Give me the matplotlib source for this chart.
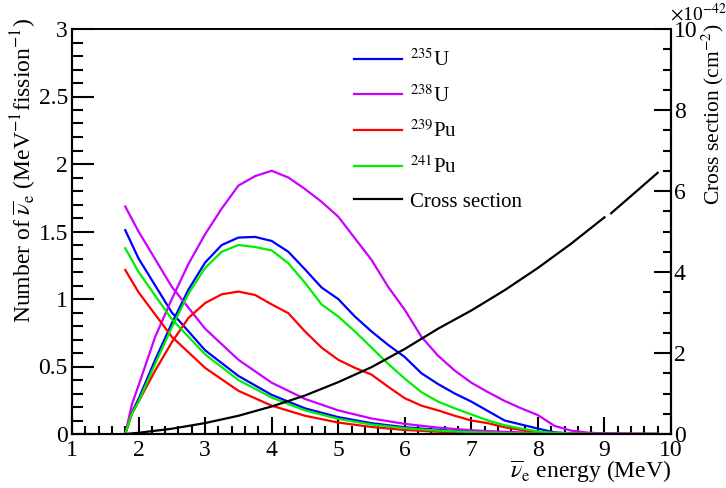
import numpy as np
import matplotlib
matplotlib.use("Agg")
import matplotlib.pyplot as plt
from matplotlib.ticker import MultipleLocator

plt.rcParams['font.family'] = ['Liberation Serif', 'DejaVu Serif']
plt.rcParams['mathtext.fontset'] = 'stix'

# ---- data ----
energy_flux = [1.8, 2.0, 2.5, 3.0, 3.5, 4.0, 4.5, 5.0, 5.5, 6.0, 6.5, 7.0, 7.5, 8.0, 8.5, 9.0, 9.5, 9.8]
flux_u235 = [1.51, 1.30, 0.90, 0.62, 0.43, 0.29, 0.19, 0.125, 0.08, 0.05, 0.03, 0.017, 0.009, 0.004, 0.002, 0.001, 0.0, 0.0]
flux_u238 = [1.685, 1.50, 1.09, 0.78, 0.55, 0.38, 0.26, 0.175, 0.115, 0.075, 0.047, 0.028, 0.016, 0.008, 0.004, 0.002, 0.001, 0.0]
flux_pu239 = [1.215, 1.05, 0.72, 0.49, 0.32, 0.21, 0.135, 0.085, 0.052, 0.03, 0.017, 0.009, 0.004, 0.002, 0.001, 0.0, 0.0, 0.0]
flux_pu241 = [1.376, 1.20, 0.85, 0.59, 0.40, 0.27, 0.175, 0.112, 0.07, 0.043, 0.025, 0.014, 0.007, 0.003, 0.001, 0.0, 0.0, 0.0]

energy_det = [1.8, 1.9, 2.0, 2.25, 2.5, 2.75, 3.0, 3.25, 3.5, 3.75, 4.0, 4.25, 4.5, 4.75,
              5.0, 5.25, 5.5, 5.75, 6.0, 6.25, 6.5, 6.75, 7.0, 7.25, 7.5, 7.75, 8.0,
              8.25, 8.5, 8.75, 9.0, 9.5, 9.8]
det_u235 = [0.0, 0.16, 0.26, 0.55, 0.82, 1.07, 1.27, 1.40, 1.455, 1.46, 1.43, 1.35, 1.22, 1.085,
            1.0, 0.87, 0.76, 0.66, 0.57, 0.45, 0.37, 0.30, 0.24, 0.17, 0.10, 0.07, 0.04,
            0.012, 0.005, 0.002, 0.001, 0.0, 0.0]
det_u238 = [0.0, 0.22, 0.36, 0.72, 1.0, 1.26, 1.48, 1.67, 1.84, 1.91, 1.95, 1.90, 1.815, 1.72,
            1.61, 1.45, 1.29, 1.09, 0.92, 0.72, 0.58, 0.47, 0.38, 0.31, 0.245, 0.19, 0.14,
            0.06, 0.025, 0.01, 0.004, 0.001, 0.0]
det_pu239 = [0.0, 0.15, 0.24, 0.47, 0.68, 0.86, 0.97, 1.035, 1.055, 1.03, 0.96, 0.895, 0.76, 0.64,
             0.55, 0.49, 0.44, 0.35, 0.265, 0.21, 0.175, 0.135, 0.10, 0.08, 0.05, 0.03, 0.015,
             0.005, 0.002, 0.0, 0.0, 0.0, 0.0]
det_pu241 = [0.0, 0.15, 0.24, 0.52, 0.79, 1.04, 1.23, 1.35, 1.40, 1.385, 1.36, 1.265, 1.12, 0.96,
             0.87, 0.76, 0.64, 0.52, 0.41, 0.31, 0.24, 0.19, 0.145, 0.10, 0.065, 0.04, 0.02,
             0.008, 0.003, 0.0, 0.0, 0.0, 0.0]

energy_xs = [1.8, 2.0, 2.5, 3.0, 3.5, 4.0, 4.5, 5.0, 5.5, 6.0, 6.5, 7.0, 7.5, 8.0, 8.5, 9.0, 9.05, 9.1, 9.5, 9.8]
cross_section = [0.0, 0.03, 0.13, 0.27, 0.45, 0.68, 0.95, 1.28, 1.65, 2.1, 2.6, 3.05, 3.55, 4.1, 4.7, 5.35, np.nan, 5.45, 6.02, 6.45]

labels = [r'$^{235}$U', r'$^{238}$U', r'$^{239}$Pu', r'$^{241}$Pu', 'Cross section']
colors = ['#0000ff', '#cc00ff', '#ff0000', '#00ee00', '#000000']

# ---- figure ----
fig = plt.figure(figsize=(7.26, 4.88), dpi=100)
ax = fig.add_axes([72/726, 1-434/488, (671-72)/726, (434-29)/488])
ax2 = ax.twinx()

lw = 1.6
fluxes = [flux_u235, flux_u238, flux_pu239, flux_pu241]
dets = [det_u235, det_u238, det_pu239, det_pu241]
handles = []
for f, d, c, lab in zip(fluxes, dets, colors[:4], labels[:4]):
    h, = ax.plot(energy_flux, f, color=c, lw=lw, label=lab)
    ax.plot(energy_det, d, color=c, lw=lw)
    handles.append(h)
hx, = ax2.plot(energy_xs, cross_section, color='k', lw=lw, label=labels[4])
handles.append(hx)

ax.set_xlim(1, 10)
ax.set_ylim(0, 3)
ax2.set_ylim(0, 10)

ax.xaxis.set_major_locator(MultipleLocator(1))
ax.xaxis.set_minor_locator(MultipleLocator(0.2))
ax.yaxis.set_major_locator(MultipleLocator(0.5))
ax.yaxis.set_minor_locator(MultipleLocator(0.1))
ax2.yaxis.set_major_locator(MultipleLocator(2))
ax2.yaxis.set_minor_locator(MultipleLocator(0.5))

fs = 17
ax.tick_params(axis='both', which='both', direction='in', top=False, right=False, labelsize=fs, width=1.5)
ax.tick_params(axis='x', which='major', length=12, pad=4)
ax.tick_params(axis='x', which='minor', length=6)
ax.tick_params(axis='y', which='major', length=16, pad=3)
ax.tick_params(axis='y', which='minor', length=8)
ax2.tick_params(axis='y', which='both', direction='in', labelsize=fs, width=1.5, pad=2)
ax2.tick_params(axis='y', which='major', length=12)
ax2.tick_params(axis='y', which='minor', length=6)

def fmt(v):
    return ('%g' % v)
ax.set_xticks(ax.get_xticks())
ax.set_xticklabels([fmt(v) for v in ax.get_xticks()])
ax.set_yticks(ax.get_yticks())
ax.set_yticklabels([fmt(v) for v in ax.get_yticks()])
ax.set_xlim(1, 10)
ax.set_ylim(0, 3)

for sp in ax.spines.values():
    sp.set_linewidth(1.5)
for sp in ax2.spines.values():
    sp.set_linewidth(1.5)
ax2.spines['top'].set_linewidth(1.2)
ax.spines['top'].set_linewidth(1.2)

# axis titles
fig.text(671/726, 1-472/488, r'$\overline{\nu}_{\rm e}$ energy (MeV)', ha='right', va='center', fontsize=fs)
fig.text(24/726, 1-18/488, r'Number of $\overline{\nu}_{\rm e}$ (MeV$^{-1}$fission$^{-1}$)',
         rotation=90, ha='center', va='top', fontsize=fs)
fig.text(713/726, 1-24/488, r'Cross section (cm$^{-2}$)', rotation=90, ha='center', va='top', fontsize=15.5)
fig.text(670/726, 1-14/488, r'$\times$10$^{-42}$', ha='left', va='center', fontsize=14)

leg = ax.legend(handles=handles, labels=labels, loc='upper left',
                bbox_to_anchor=((346-72)/(671-72), (434-41)/(434-29)), frameon=False,
                fontsize=15, handlelength=2.3, handletextpad=0.35, labelspacing=0.68,
                borderaxespad=0)

fig.savefig('out.png', dpi=100)
